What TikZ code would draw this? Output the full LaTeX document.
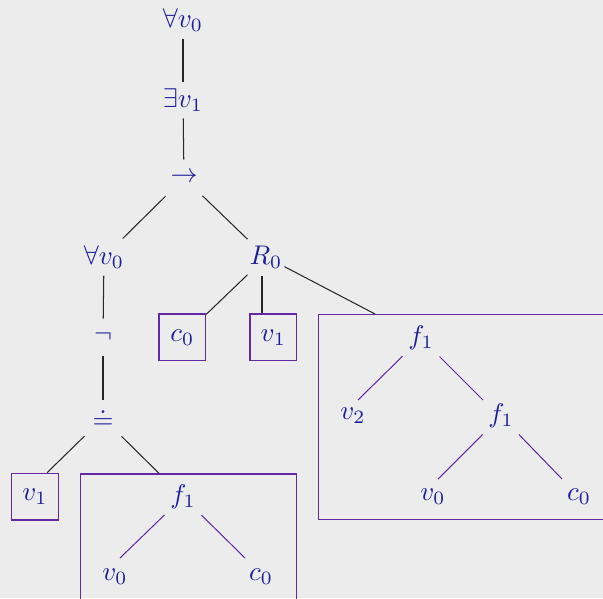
\documentclass[tikz,border=0pt]{standalone}
\usetikzlibrary{calc}
\definecolor{bgc}{RGB}{236,236,236}
\definecolor{txtc}{RGB}{30,30,155}
\definecolor{boxc}{RGB}{100,40,165}
\begin{document}
\begin{tikzpicture}[x=0.37037pt,y=-0.37037pt,
  tn/.style={text=txtc, inner sep=0pt, minimum width=13.3pt, minimum height=13.3pt},
  bx/.style={draw=boxc, text=txtc, inner sep=0pt, minimum width=17.3pt, minimum height=17.3pt, line width=0.45pt},
  bigbox/.style={draw=boxc, inner sep=0pt, anchor=north west, line width=0.45pt},
  ed/.style={draw=black!85, line width=0.38pt},
  ied/.style={draw=boxc, line width=0.38pt}]
\fill[bgc] (0,0) rectangle (603,598);
\useasboundingbox (0,0) rectangle (603,598);
% spine
\node[tn] (fa1) at (183,20) {$\forall v_0$};
\node[tn] (ex) at (183,100) {$\exists v_1$};
\node[tn] (imp) at (184,178) {$\rightarrow$};
\node[tn] (fa2) at (104,257) {$\forall v_0$};
\node[tn] (R0) at (266,257) {$R_0$};
\node[tn] (neg) at (103,337) {$\neg$};
\node[tn] (eq) at (103,418) {$\doteq$};
% boxes under R0
\node[bx] (cb) at (182.3,337.3) {$c_0$};
\node[bx] (vb) at (273.3,337.3) {$v_1$};
\node[bigbox, minimum width=120pt, minimum height=75.9pt] (BR) at (318,314) {};
\node[tn] (fA) at (421,338) {$f_1$};
\node[tn] (v2) at (353,416) {$v_2$};
\node[tn] (fB) at (501,416) {$f_1$};
\node[tn] (v0A) at (433,497) {$v_0$};
\node[tn] (c0A) at (579,497) {$c_0$};
% boxes under eq
\node[bx] (vL) at (35,496.7) {$v_1$};
\node[bigbox, minimum width=80.2pt, minimum height=60pt] (BB) at (79.5,473.3) {};
\node[tn] (fC) at (183,497) {$f_1$};
\node[tn] (v0C) at (115,577) {$v_0$};
\node[tn] (c0C) at (261,577) {$c_0$};
% black edges
\draw[ed] (fa1) -- (ex);
\draw[ed] (ex) -- (imp);
\draw[ed] (imp) -- (fa2);
\draw[ed] (imp) -- (R0);
\draw[ed] (fa2) -- (neg);
\draw[ed] (neg) -- (eq);
\draw[ed] (R0) -- (cb);
\draw[ed] ($(R0.south)+(-4,0)$) -- ($(R0.south |- vb.north)+(-4,0)$);
\draw[ed] (R0) -- (intersection of R0--fA and BR.north west--BR.north east);
\draw[ed] (eq) -- ($(vL.north)+(12,0)$);
\draw[ed] (eq) -- (intersection of eq--fC and BB.north west--BB.north east);
% purple edges
\draw[ied] (fA) -- ($(v2)+(5,-16)$);
\draw[ied] (fA) -- ($(fB)+(-18,-16)$);
\draw[ied] (fB) -- ($(v0A)+(5,-18)$);
\draw[ied] (fB) -- ($(c0A)+(-17,-18)$);
\draw[ied] (fC) -- ($(v0C)+(5,-19)$);
\draw[ied] (fC) -- ($(c0C)+(-16,-19)$);
\end{tikzpicture}
\end{document}
